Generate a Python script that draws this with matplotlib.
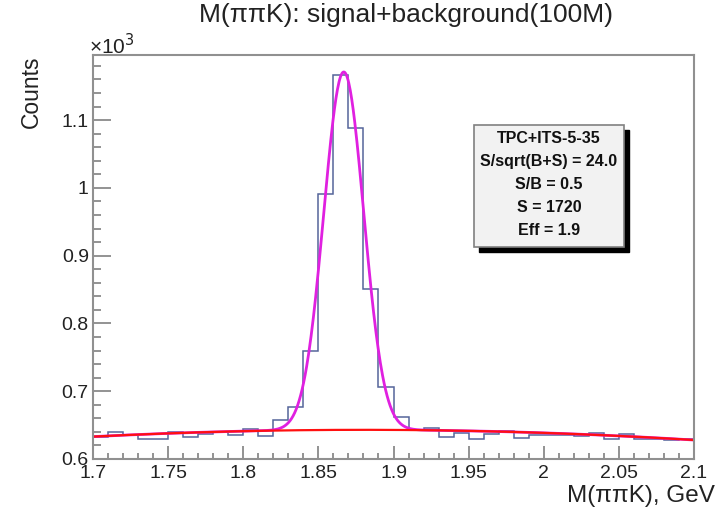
import numpy as np
import matplotlib
matplotlib.use("Agg")
import matplotlib.pyplot as plt
from matplotlib.ticker import MultipleLocator, FuncFormatter
from matplotlib.patches import Rectangle

plt.rcParams["font.family"] = ["Liberation Sans", "DejaVu Sans"]

# histogram: 40 bins of 0.01 GeV from 1.70 to 2.10, counts per bin
bin_edges = np.round(np.arange(1.70, 2.1001, 0.01), 3)
counts = [632, 640, 635, 630, 630, 640, 632, 637, 640, 635,
          644, 634, 658, 676, 760, 991, 1166, 1088, 851, 706,
          662, 643, 646, 633, 638, 630, 637, 641, 631, 636,
          635, 635, 634, 638, 629, 637, 630, 629, 628, 629]

# fit results (counts): quadratic background around x0 + gaussian signal
bkg_x0 = 1.87
bkg_coef = [643.0, 6.1, -310.0]
sig_amp = 528.0
sig_mean = 1.8669
sig_sigma = 0.0133

title = "M(\u03c0\u03c0K): signal+background(100M)"
xlabel = "M(\u03c0\u03c0K), GeV"
ylabel = "Counts"
box_lines = ["TPC+ITS-5-35", "S/sqrt(B+S) = 24.0", "S/B = 0.5", "S = 1720", "Eff = 1.9"]

fig = plt.figure(figsize=(7.16, 5.07), dpi=100)
ax = fig.add_axes([93 / 716, 48 / 507, 601 / 716, 404 / 507])

scale = 1000.0
y = np.array(counts) / scale
ax.stairs(y, bin_edges, color="#55659a", linewidth=1.1)

xf = np.linspace(1.70, 2.10, 800)
u = xf - bkg_x0
bkg = bkg_coef[0] + bkg_coef[1] * u + bkg_coef[2] * u ** 2
sig = sig_amp * np.exp(-0.5 * ((xf - sig_mean) / sig_sigma) ** 2)
ax.plot(xf, (bkg + sig) / scale, color="#e020e0", linewidth=2.0)
ax.plot(xf, bkg / scale, color="#ff1010", linewidth=1.6)

ax.set_xlim(1.70, 2.10)
ax.set_ylim(0.60, 1.196)

ax.xaxis.set_major_locator(MultipleLocator(0.05))
ax.xaxis.set_minor_locator(MultipleLocator(0.01))
ax.yaxis.set_major_locator(MultipleLocator(0.1))
ax.yaxis.set_minor_locator(MultipleLocator(0.02))
ax.xaxis.set_major_formatter(FuncFormatter(lambda v, p: f"{v:.2f}".rstrip("0").rstrip(".")))
ax.yaxis.set_major_formatter(FuncFormatter(lambda v, p: f"{v:.1f}".rstrip("0").rstrip(".")))

ax.tick_params(axis="both", which="both", direction="in", top=False, right=False,
               color="#808080", labelsize=14, labelcolor="#222222", width=1.2)
ax.tick_params(axis="x", which="major", length=9.5, pad=4)
ax.tick_params(axis="x", which="minor", length=4.5)
ax.tick_params(axis="y", which="major", length=13, pad=3)
ax.tick_params(axis="y", which="minor", length=6)
for s in ax.spines.values():
    s.set_color("#909090")
    s.set_linewidth(1.5)

fig.text(406 / 716, 1 - 15 / 507, title, ha="center", va="center", fontsize=19, color="#222222")
fig.text(715 / 716, 1 - 496 / 507, xlabel, ha="right", va="center", fontsize=17.5, color="#222222")
fig.text(31 / 716, 1 - 55 / 507, ylabel, ha="center", va="top", rotation=90, fontsize=16.5,
         color="#222222")
fig.text(89 / 716, 1 - 46 / 507, "\u00d710$^3$", ha="left", va="center", fontsize=15,
         color="#222222")

# stats box with drop shadow (figure pixel coordinates)
bx, by, bw, bh = 474, 125, 150, 122
shadow = Rectangle(((bx + 5) / 716, 1 - (by + bh + 5) / 507), bw / 716, bh / 507,
                   transform=fig.transFigure, facecolor="black", edgecolor="black", zorder=5)
box = Rectangle((bx / 716, 1 - (by + bh) / 507), bw / 716, bh / 507,
                transform=fig.transFigure, facecolor="#f2f2f2", edgecolor="#808080",
                linewidth=1.2, zorder=6)
fig.patches.extend([shadow, box])
for i, line in enumerate(box_lines):
    fig.text((bx + bw / 2) / 716, 1 - (138 + 23.2 * i) / 507, line, ha="center", va="center",
             fontsize=11.5, fontweight="bold", zorder=7, color="#111111")

fig.savefig("out.png", dpi=100)
